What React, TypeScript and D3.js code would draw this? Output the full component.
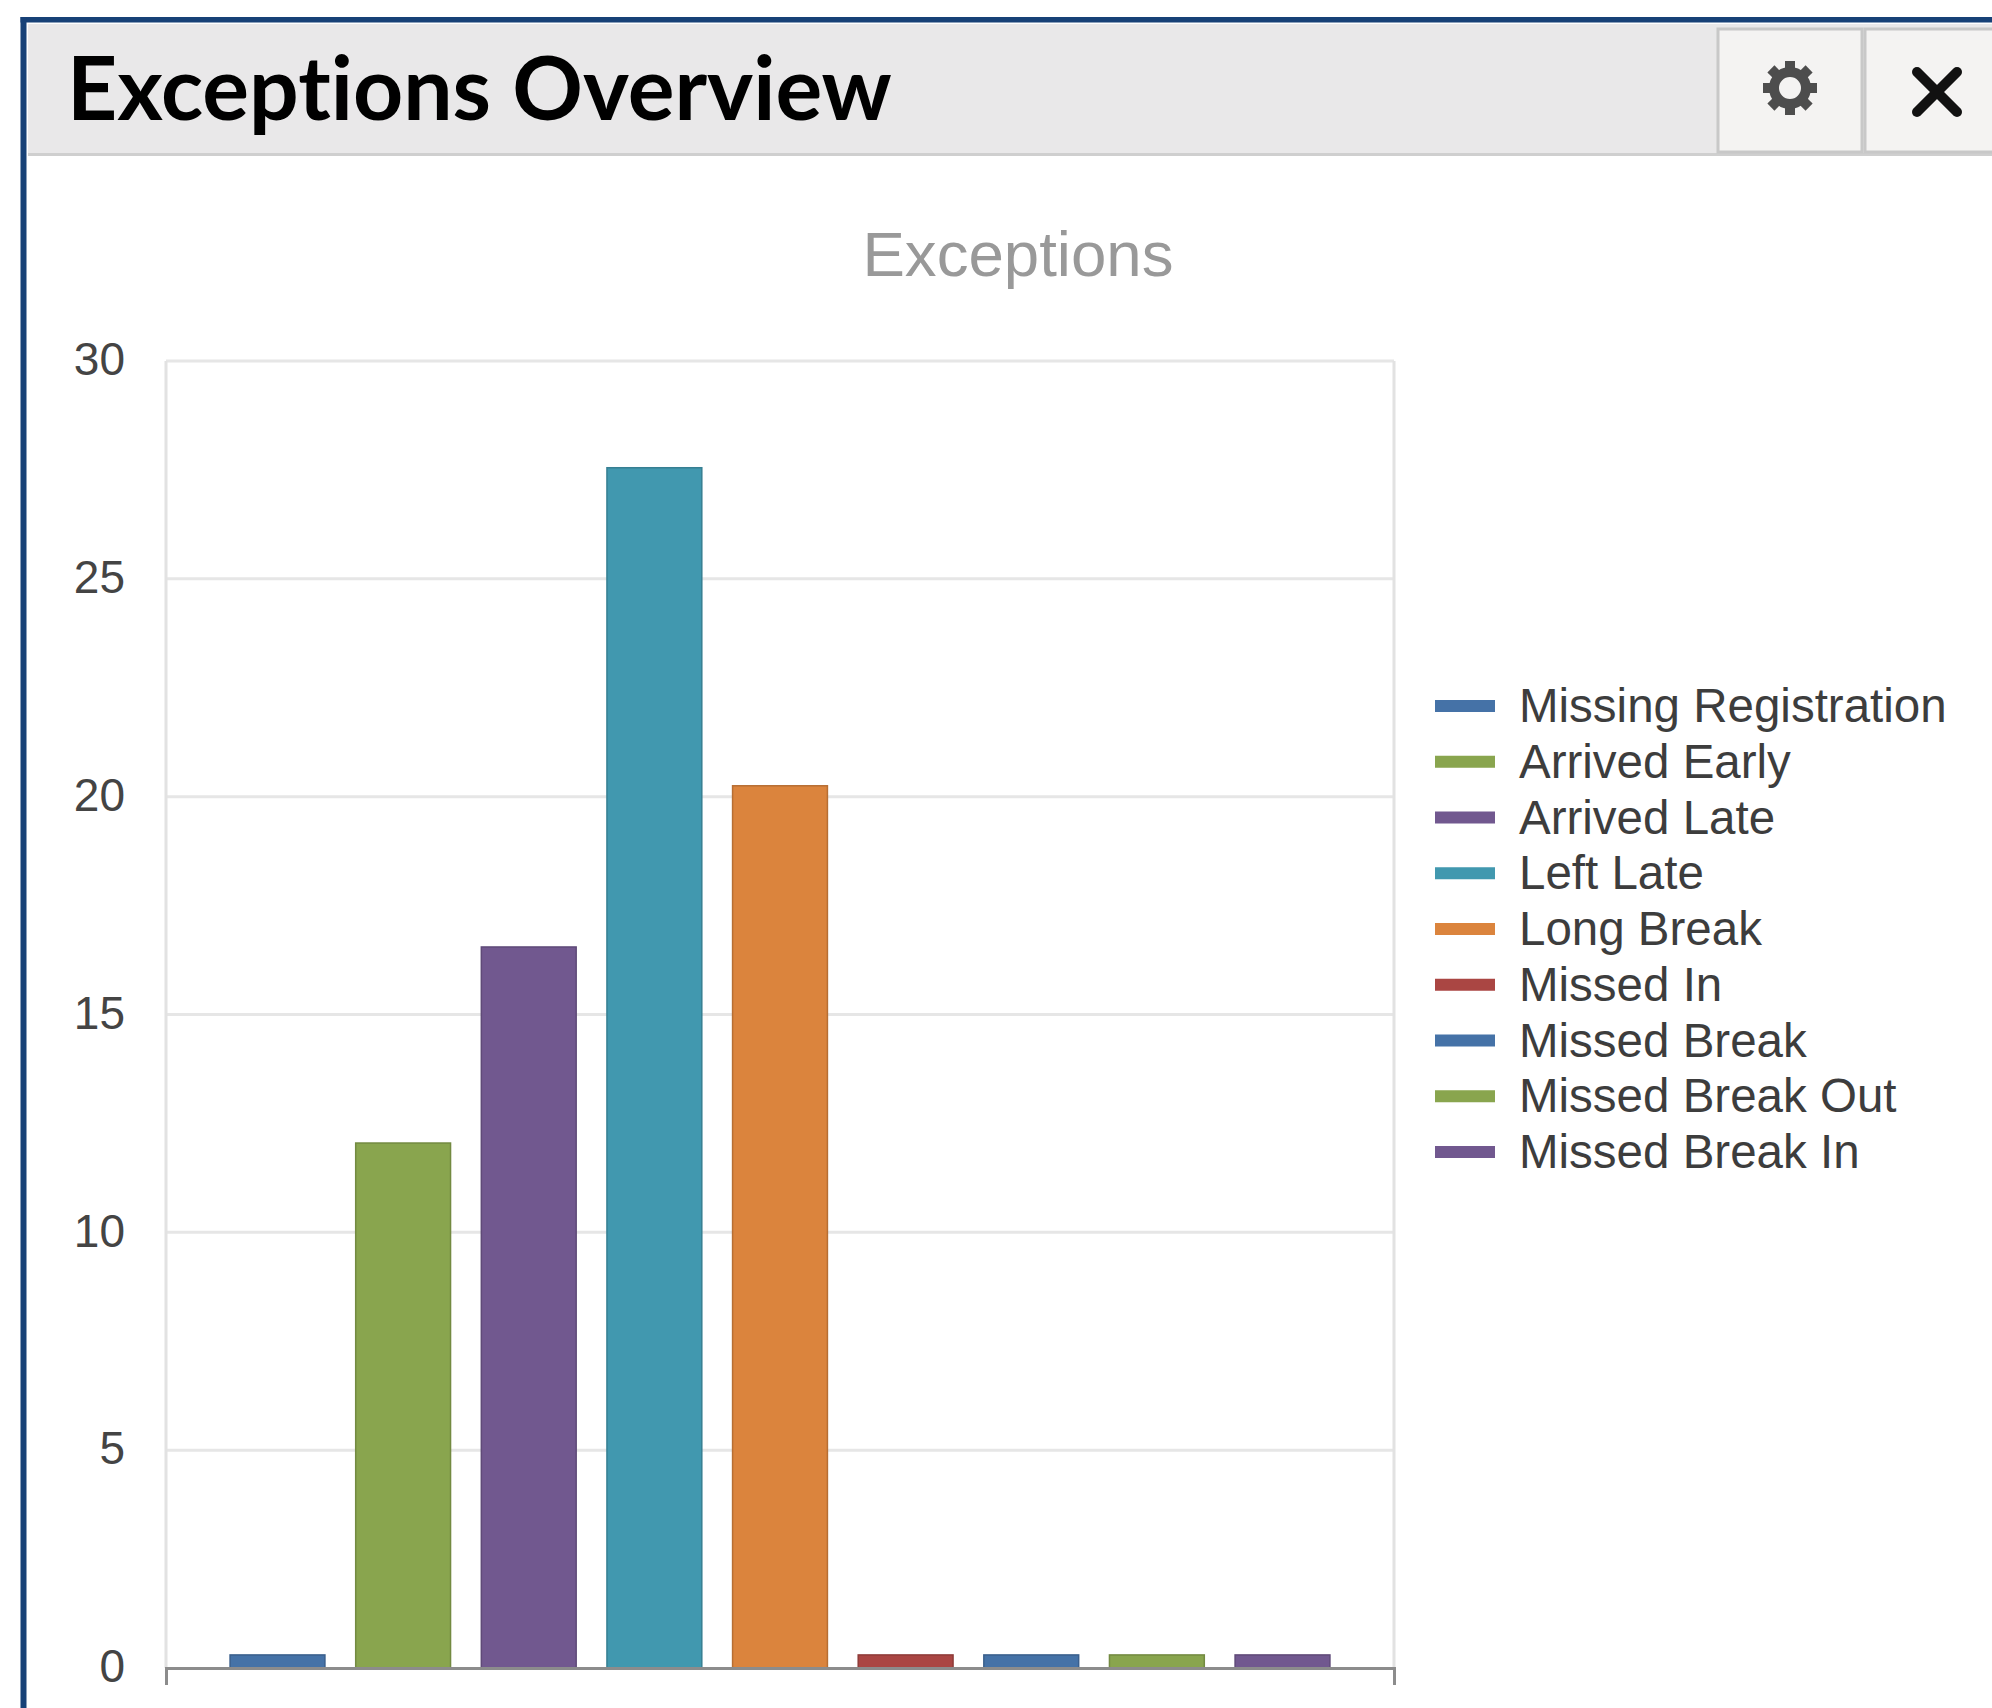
import React, { useEffect, useRef } from 'react';
import * as d3 from 'd3';

const categories = [
  'Missing Registration',
  'Arrived Early',
  'Arrived Late',
  'Left Late',
  'Long Break',
  'Missed In',
  'Missed Break',
  'Missed Break Out',
  'Missed Break In'
];
const values = [0.3, 12.05, 16.55, 27.55, 20.25, 0.3, 0.3, 0.3, 0.3];
const colors = ['#4572a7', '#89a54e', '#71588f', '#4198af', '#db843d', '#aa4643', '#4572a7', '#89a54e', '#71588f'];
const yTicks = [0, 5, 10, 15, 20, 25, 30];

const panelTitle = 'Exceptions Overview';
const chartTitle = 'Exceptions';

const width = 1992;
const height = 1708;
const plot = { left: 166, right: 1394, top: 361, bottom: 1668 };

const App: React.FC = () => {
  const svgRef = useRef<SVGSVGElement>(null);

  useEffect(() => {
    if (!svgRef.current) return;

    const svg = d3.select(svgRef.current);
    svg.selectAll('*').remove();

    // Panel frame and header
    svg.append('rect').attr('x', 28).attr('y', 24).attr('width', width - 28).attr('height', 131).attr('fill', '#e9e8e9');
    svg.append('rect').attr('x', 28).attr('y', 153).attr('width', width - 28).attr('height', 3).attr('fill', '#cfcfcf');
    svg.append('rect').attr('x', 20.5).attr('y', 17).attr('width', width).attr('height', 5.5).attr('fill', '#174177');
    svg.append('rect').attr('x', 20.5).attr('y', 17).attr('width', 6).attr('height', height).attr('fill', '#174177');

    svg.append('text')
      .attr('x', 67)
      .attr('y', 120)
      .attr('font-family', 'Lato')
      .attr('font-weight', 700)
      .attr('font-size', 87.5)
      .attr('fill', '#000')
      .style('font-variant-ligatures', 'none')
      .text(panelTitle);

    // Header buttons
    const buttons = svg.append('g').attr('fill', '#f4f3f2').attr('stroke', '#c8c8c8').attr('stroke-width', 3);
    buttons.append('rect').attr('x', 1718).attr('y', 29).attr('width', 144).attr('height', 123);
    buttons.append('rect').attr('x', 1865).attr('y', 29).attr('width', 140).attr('height', 123);

    const gear = svg.append('g').attr('transform', 'translate(1790,88)');
    d3.range(8).forEach(i => {
      gear.append('rect')
        .attr('x', -5)
        .attr('y', -27)
        .attr('width', 10)
        .attr('height', 14)
        .attr('fill', '#4d4d4d')
        .attr('transform', `rotate(${i * 45})`);
    });
    gear.append('circle').attr('r', 16).attr('fill', 'none').attr('stroke', '#4d4d4d').attr('stroke-width', 10);

    const cross = svg.append('g')
      .attr('transform', 'translate(1937,92)')
      .attr('stroke', '#111')
      .attr('stroke-width', 10)
      .attr('stroke-linecap', 'round');
    cross.append('line').attr('x1', -20).attr('y1', -20).attr('x2', 20).attr('y2', 20);
    cross.append('line').attr('x1', -20).attr('y1', 20).attr('x2', 20).attr('y2', -20);

    // Chart title
    svg.append('text')
      .attr('x', 1018)
      .attr('y', 276)
      .attr('text-anchor', 'middle')
      .attr('font-family', 'Liberation Sans')
      .attr('font-size', 63.6)
      .attr('fill', '#999')
      .text(chartTitle);

    // Scales
    const xScale = d3.scaleBand<string>()
      .domain(categories)
      .range([plot.left, plot.right])
      .paddingInner(0.245)
      .paddingOuter(0.51);

    const yScale = d3.scaleLinear()
      .domain([0, 30])
      .range([plot.bottom, plot.top]);

    // Gridlines and plot sides
    svg.append('g')
      .selectAll('line')
      .data(yTicks.filter(d => d > 0))
      .enter()
      .append('line')
      .attr('x1', plot.left)
      .attr('x2', plot.right)
      .attr('y1', d => yScale(d))
      .attr('y2', d => yScale(d))
      .attr('stroke', '#e6e6e6')
      .attr('stroke-width', 3);

    svg.append('g')
      .selectAll('line')
      .data([plot.left, plot.right])
      .enter()
      .append('line')
      .attr('x1', d => d)
      .attr('x2', d => d)
      .attr('y1', plot.top)
      .attr('y2', plot.bottom)
      .attr('stroke', '#e2e2e2')
      .attr('stroke-width', 3);

    // Bars
    svg.append('g')
      .selectAll('rect')
      .data(categories)
      .enter()
      .append('rect')
      .attr('x', d => xScale(d)!)
      .attr('y', (d, i) => yScale(values[i]))
      .attr('width', xScale.bandwidth())
      .attr('height', (d, i) => plot.bottom - yScale(values[i]))
      .attr('fill', (d, i) => colors[i])
      .attr('stroke', (d, i) => d3.color(colors[i])!.darker(0.5).formatHex())
      .attr('stroke-width', 1.5);

    // Axes
    const xAxis = svg.append('g')
      .attr('transform', `translate(0,${plot.bottom})`)
      .call(d3.axisBottom(xScale).tickValues([]).tickSizeInner(0).tickSizeOuter(17));
    xAxis.select('.domain').attr('stroke', '#8c8c8c').attr('stroke-width', 3);

    const yAxis = svg.append('g')
      .attr('transform', `translate(${plot.left},0)`)
      .call(d3.axisLeft(yScale).tickValues(yTicks).tickSize(0).tickPadding(41));
    yAxis.select('.domain').remove();
    yAxis.selectAll('text')
      .attr('font-family', 'Liberation Sans')
      .attr('font-size', 46)
      .attr('dy', '0.3em')
      .attr('fill', '#444');

    // Legend
    const legendRow = d3.scalePoint<string>()
      .domain(categories)
      .range([706, 1152]);

    const legend = svg.append('g')
      .selectAll('g')
      .data(categories)
      .enter()
      .append('g')
      .attr('transform', d => `translate(1435,${legendRow(d)})`);

    legend.append('rect')
      .attr('y', -6)
      .attr('width', 60)
      .attr('height', 12)
      .attr('fill', (d, i) => colors[i]);

    legend.append('text')
      .attr('x', 84)
      .attr('y', 16)
      .attr('font-family', 'Liberation Sans')
      .attr('font-size', 47.5)
      .attr('fill', '#3d3d3d')
      .text(d => d);
  }, []);

  return (
    <svg
      ref={svgRef}
      width={width}
      height={height}
      style={{ position: 'absolute', left: 0, top: 0, display: 'block', background: '#fff' }}
    />
  );
};

export default App;
